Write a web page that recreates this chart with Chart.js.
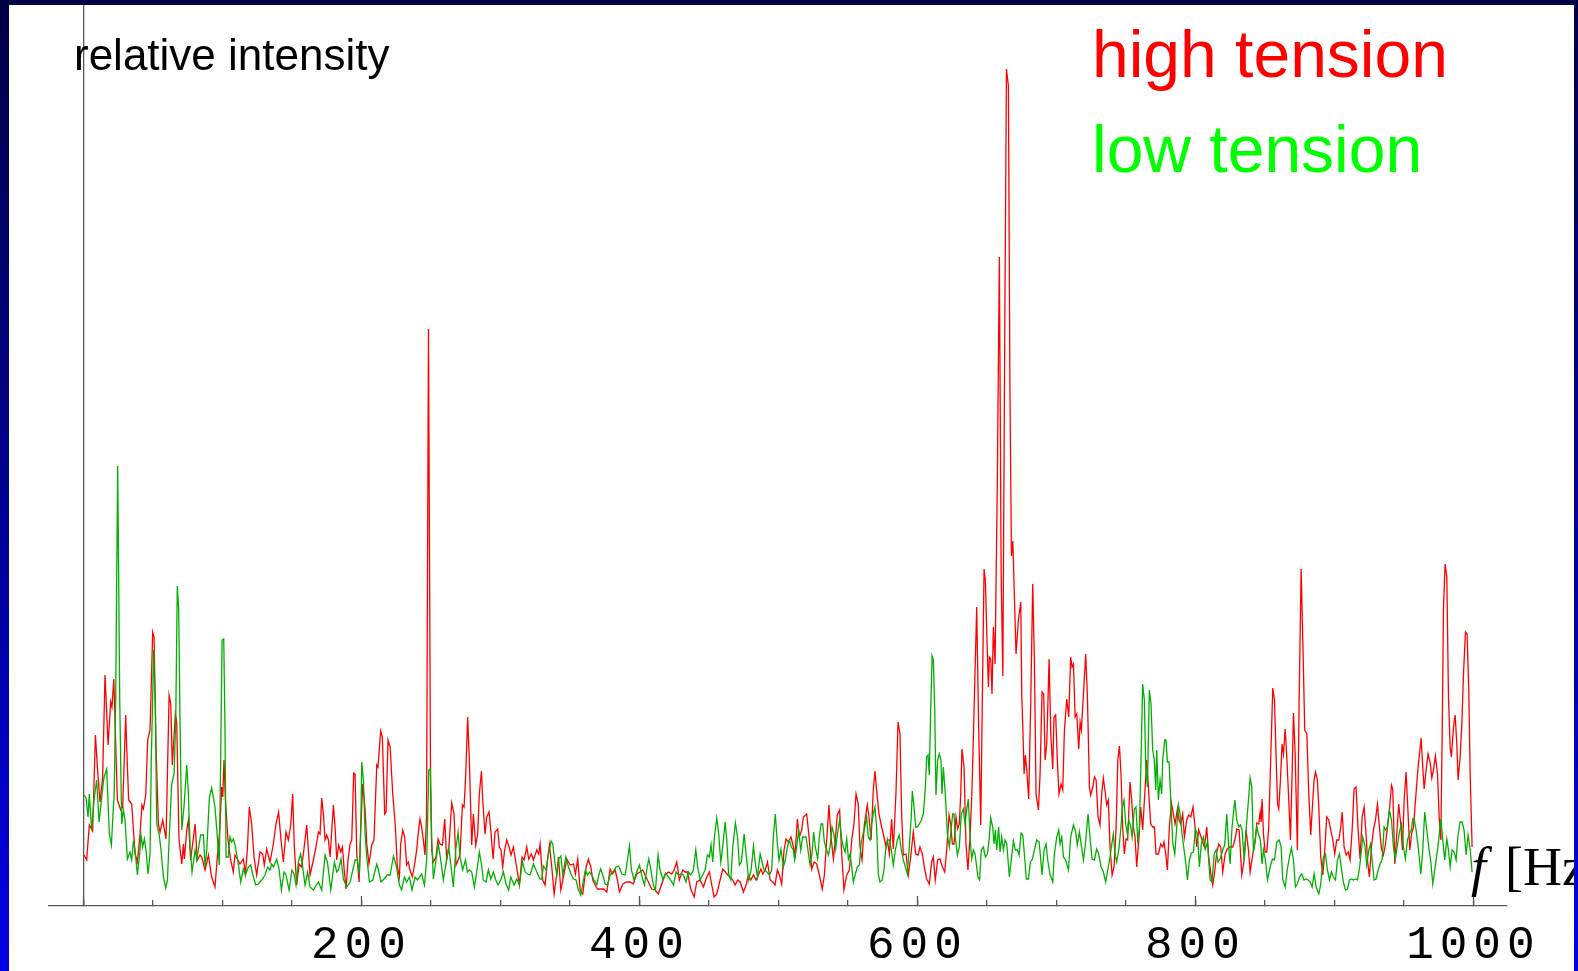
<!DOCTYPE html>
<html><head><meta charset="utf-8">
<script src="https://cdn.jsdelivr.net/npm/chart.js@4.4.1/dist/chart.umd.min.js"></script>
<style>
html,body{margin:0;padding:0;width:1578px;height:971px;overflow:hidden;}
body{background:linear-gradient(to bottom,#000046 0%,#000090 50%,#0000e6 100%);position:relative;}
#panel{position:absolute;left:9px;top:5px;width:1565px;height:966px;background:#fff;overflow:hidden;}
canvas{display:block;}
</style></head><body>
<div id="panel"><canvas id="c" width="1565" height="966"></canvas></div>
<script>
// high tension (red): frequency [Hz] and relative intensity
const hiFreq = [
0.5,2.4,4.3,6.7,8.7,10.1,12.0,13.9,15.6,17.8,19.7,20.6,21.9,24.5,26.9,28.3,30.5,31.2,32.6,34.8,37.2,38.9,40.8,42.2,43.2,44.9,46.3,48.0,49.9,50.9,52.3,54.0,55.2,57.1,59.5,61.7,62.9,64.0,66.2,67.2,68.8,70.8,72.0,72.7,74.4,75.6,77.2,80.4,82.0,84.0,85.2,87.6,90.0,92.3,94.7,96.4,98.3,99.5,100.3,101.2,102.2,104.1,106.0,107.9,109.1,110.8,112.7,115.1,116.6,118.0,119.4,121.1,122.8,124.7,127.1,129.0,130.2,131.9,134.3,136.7,138.6,140.5,142.2,143.9,145.8,147.5,149.2,150.6,151.8,153.5,155.2,156.9,158.3,160.7,163.1,
165.5,167.4,169.1,170.3,171.5,172.7,173.9,175.1,176.3,177.5,179.9,181.1,182.3,183.7,185.2,186.4,187.8,189.0,190.4,191.9,193.1,194.5,195.5,196.7,198.4,199.6,201.0,202.7,203.9,205.5,207.5,209.1,211.1,212.0,213.9,215.1,216.8,217.8,219.2,220.7,222.6,224.5,225.9,227.4,228.3,229.8,231.2,232.6,233.8,235.0,236.7,238.6,239.8,241.0,242.2,243.4,244.6,245.8,246.9,248.3,249.8,250.6,251.8,253.7,255.2,256.6,258.3,260.0,261.4,263.1,265.0,266.7,268.1,269.6,271.0,272.7,273.9,275.1,276.5,277.7,279.4,280.6,282.3,283.7,284.9,286.4,287.3,289.0,290.2,291.9,293.1,294.8,296.2,298.1,299.3,300.5,301.7,303.1,304.6,306.3,307.7,309.4,311.1,312.3,313.7,315.6,317.1,319.0,320.4,322.3,323.8,326.2,327.6,328.6,
330.5,332.2,333.9,335.3,337.0,338.7,340.6,341.8,343.5,345.4,347.8,350.2,352.6,354.0,355.7,357.4,359.3,361.7,363.4,365.1,366.5,368.2,369.8,371.8,374.2,376.6,379.0,380.6,382.6,384.2,385.7,388.1,390.9,393.3,395.7,398.1,400.5,402.5,404.1,406.5,408.9,411.3,413.7,416.1,418.5,420.9,423.3,425.0,426.9,428.8,431.2,432.9,434.6,437.0,439.4,441.3,443.7,446.1,448.5,450.4,452.1,453.8,455.7,458.1,460.0,461.9,463.6,465.3,467.2,468.9,470.8,472.5,474.9,476.8,478.5,480.2,482.1,484.0,485.7,487.4,488.8,490.5,492.2,494.1,
495.9,497.6,499.3,500.7,502.4,504.1,505.5,507.2,509.1,510.8,512.0,513.7,515.1,516.8,518.0,520.4,522.1,524.0,525.7,527.6,529.5,531.6,533.1,534.8,536.4,537.9,539.6,541.0,542.4,544.1,545.6,547.2,549.2,551.1,552.8,554.4,555.9,557.5,558.7,560.2,561.9,564.0,565.2,566.7,568.3,569.5,570.7,572.4,574.3,576.0,577.5,578.4,579.9,581.5,582.7,584.6,586.1,587.5,588.7,589.9,591.8,593.5,595.2,597.1,598.8,600.5,601.9,603.6,605.0,606.7,608.6,610.3,611.5,612.9,614.6,616.3,618.0,619.7,621.1,622.8,624.0,625.2,626.4,627.8,629.0,630.2,631.2,632.1,633.6,635.0,636.4,637.9,639.3,640.8,642.7,644.1,645.6,646.8,648.0,648.9,650.4,651.1,651.8,652.8,653.7,654.7,655.9,657.5,659.0,660.3,661.5,663.0,664.1,665.5,666.6,667.7,668.7,669.6,
671.0,672.7,674.4,675.1,675.8,676.8,677.7,678.7,680.1,681.6,683.0,684.2,685.4,687.1,688.3,689.7,690.9,691.9,693.1,694.8,696.0,697.4,698.3,699.5,700.7,701.9,703.4,704.6,705.8,707.5,708.9,710.3,711.3,712.3,713.5,714.7,716.1,717.1,718.0,719.5,721.1,722.3,723.8,724.7,726.2,727.4,728.6,730.0,731.4,732.6,733.8,735.3,736.2,737.4,738.6,740.1,741.5,743.0,744.2,745.4,746.6,747.7,748.9,750.1,751.3,753.0,754.2,755.4,756.6,757.8,759.3,760.7,762.1,763.6,765.0,766.2,767.9,769.3,770.5,771.7,773.4,775.1,776.5,777.5,778.7,779.9,781.3,782.8,784.2,785.4,787.1,788.3,789.5,790.9,792.1,793.8,795.2,796.7,798.3,799.8,801.0,802.4,803.4,804.8,806.5,808.2,809.6,811.3,812.5,813.7,815.4,816.8,818.3,819.7,821.4,823.0,824.5,
826.9,828.4,829.8,831.5,833.4,835.1,836.5,838.2,839.4,841.3,843.0,844.2,845.6,846.6,847.3,848.0,849.0,850.2,851.4,852.8,854.3,855.7,856.9,858.1,859.1,860.0,861.2,862.4,863.4,864.6,865.8,867.2,868.4,869.6,870.6,871.8,873.4,874.6,876.1,877.3,878.7,880.2,881.6,883.0,884.2,885.4,886.4,887.8,888.8,890.2,891.7,893.1,894.5,896.0,897.4,898.9,900.3,901.7,903.2,904.6,905.6,907.0,908.5,910.1,911.3,912.8,914.2,915.6,917.1,918.5,920.0,921.4,922.8,923.8,925.2,926.7,928.1,929.6,931.0,932.4,933.9,935.3,936.8,938.2,939.6,941.1,942.0,943.5,944.9,946.3,947.8,949.0,950.2,951.6,952.8,954.3,955.5,956.9,958.3,959.8,961.0,962.4,963.6,964.6,966.0,967.4,968.9,970.1,971.3,972.7,974.2,975.4,976.6,977.8,978.5,979.7,980.9,982.1,983.3,984.2,985.7,986.9,988.1,989.0,990.5,991.7,992.9,994.3,995.5,996.7,997.7,999.1
];
const hiVal = [
51,46,81,75,171,139,104,129,231,161,204,199,227,106,96,99,191,159,106,102,52,44,72,101,97,111,166,176,274,269,159,82,74,86,67,211,202,141,192,184,67,42,62,47,76,86,46,82,46,51,49,36,51,29,19,49,79,119,109,146,106,66,46,34,51,47,42,47,32,56,99,82,49,31,54,52,41,57,44,62,82,94,66,44,74,66,81,112,59,21,42,39,52,81,31,
46,59,74,72,108,92,66,71,66,49,101,79,46,61,54,59,34,17,46,62,66,133,132,52,24,79,122,97,62,42,61,66,141,139,175,169,92,94,166,159,112,79,39,29,62,76,69,41,44,36,29,44,56,74,87,79,66,51,90,577,120,56,44,49,67,62,61,87,46,61,103,92,41,46,52,101,99,132,189,146,61,92,61,72,112,135,106,72,89,94,76,47,74,77,59,56,39,56,66,59,51,59,44,34,21,49,46,59,47,52,46,56,52,62,
26,21,46,61,39,12,32,49,16,29,47,41,42,32,47,16,12,39,47,39,26,21,17,17,17,14,37,32,36,26,14,22,24,24,22,32,34,36,31,24,17,16,12,22,31,34,32,36,44,26,36,34,34,17,9,24,26,19,29,34,21,9,12,26,37,34,31,29,26,21,26,24,14,21,31,26,31,26,31,37,32,36,44,26,
24,21,36,31,22,56,67,64,69,59,51,87,69,76,89,92,69,37,44,42,31,17,31,66,101,69,47,66,91,96,52,16,31,36,66,82,112,102,59,46,82,101,89,66,116,135,116,92,79,69,59,66,52,87,57,112,184,172,92,51,52,31,49,74,52,51,59,52,39,27,22,44,49,26,46,47,39,34,56,91,82,62,62,89,77,82,112,157,139,62,36,69,116,196,299,179,81,212,337,326,252,219,249,247,212,279,242,420,649,330,230,600,837,820,520,350,365,320,
252,286,304,212,182,132,151,136,107,206,322,246,112,96,132,214,212,146,162,247,172,137,189,191,146,112,122,116,176,207,189,249,239,242,189,192,157,184,176,212,252,212,119,111,119,129,126,89,81,112,128,112,101,106,59,31,39,79,146,160,129,79,52,67,66,124,106,79,69,39,66,99,76,112,146,119,82,79,79,52,52,62,59,64,52,36,79,103,92,82,97,86,82,92,69,86,91,89,99,79,59,76,72,66,59,79,49,31,21,32,54,62,59,34,52,57,59,
59,66,77,76,31,46,76,56,34,52,64,83,82,94,84,107,72,54,54,79,152,218,206,149,102,97,126,162,152,177,149,106,66,132,193,152,56,199,337,266,176,172,112,71,99,126,134,126,99,49,31,56,89,86,76,66,52,66,66,79,94,59,51,54,46,76,117,119,76,47,89,99,72,46,29,59,76,86,102,79,57,51,62,79,96,121,117,42,72,102,81,56,106,134,99,56,72,79,104,132,149,168,139,117,136,152,144,128,136,150,132,89,66,199,299,342,329,209,159,149,179,191,162,126,149,182,232,274,272,216,132,59
];
// low tension (green)
const loFreq = [
0.5,2.0,3.4,4.3,6.0,7.7,9.6,11.3,12.7,14.9,16.8,18.7,20.2,21.6,22.2,23.3,24.7,26.2,27.6,28.8,30.0,31.7,33.6,34.8,36.0,37.2,38.9,40.8,41.5,42.7,43.9,45.1,46.5,48.0,48.9,50.6,51.8,52.8,54.5,55.9,57.6,59.3,60.5,61.9,63.6,65.3,66.5,67.6,68.6,69.6,70.8,72.4,74.4,75.6,76.8,78.2,80.4,81.6,82.7,84.4,86.4,87.6,88.8,90.7,92.3,94.7,96.4,97.8,98.8,99.8,101.0,101.9,102.7,104.3,105.5,106.7,107.9,109.1,110.3,111.8,113.2,115.1,116.6,118.7,120.4,122.3,124.0,125.9,128.3,130.7,132.6,134.3,135.5,136.7,139.1,140.8,142.5,144.4,145.8,148.0,150.1,151.6,153.0,154.7,156.4,157.8,159.5,161.4,163.1,
165.5,169.1,171.5,173.9,175.6,178.0,180.6,182.3,183.5,185.4,187.1,189.5,191.9,195.5,197.2,198.6,199.6,200.3,201.5,202.7,203.9,205.8,208.2,211.1,212.3,214.2,216.3,218.7,220.7,223.1,225.0,227.4,229.0,231.0,232.6,234.6,236.5,238.6,240.3,243.4,245.4,247.0,248.5,249.7,250.6,251.8,253.7,255.4,257.1,259.0,261.4,262.9,264.3,266.2,267.9,269.6,271.0,272.9,274.9,276.3,277.7,279.4,281.3,283.0,284.9,286.4,287.8,289.7,291.4,293.1,295.0,296.7,298.4,300.3,302.2,304.1,306.0,307.5,309.9,311.8,313.7,315.9,317.8,319.5,321.4,323.8,326.2,328.6,
329.8,331.0,332.9,334.6,336.5,337.7,339.4,340.6,342.0,343.5,344.9,347.1,349.0,350.9,352.6,354.5,356.2,357.9,359.8,361.2,362.7,364.1,365.8,367.4,369.4,370.8,372.2,373.7,375.4,377.0,379.0,380.9,383.3,385.2,387.4,389.8,391.4,392.9,394.3,396.2,398.1,400.1,402.0,403.7,405.3,406.8,408.2,410.1,411.6,413.5,414.9,416.9,418.8,420.9,422.6,424.5,426.4,428.1,429.8,431.7,433.6,435.3,437.0,438.9,440.6,442.0,443.7,445.6,447.3,449.0,450.4,451.6,452.8,454.0,455.7,457.1,458.6,460.0,461.7,462.9,464.3,465.8,467.2,469.1,470.6,472.0,473.4,475.4,476.8,478.7,480.4,482.1,483.5,485.0,486.9,488.3,489.7,491.7,493.6,
495.2,496.4,497.8,499.3,500.5,501.9,503.6,505.0,506.5,507.9,509.3,510.8,511.7,513.2,514.6,516.1,517.5,518.9,519.9,521.3,522.8,524.2,525.4,526.6,528.3,529.5,530.7,531.9,533.1,534.8,536.0,537.2,538.6,540.0,541.2,542.7,544.1,545.6,546.8,548.0,549.2,550.4,551.6,552.8,554.0,555.4,556.8,558.3,559.5,560.9,562.3,563.5,564.7,565.9,567.1,568.3,569.5,570.7,571.9,573.1,574.6,576.0,577.2,578.7,579.9,581.3,582.7,584.2,585.6,587.0,588.5,589.9,591.4,592.8,594.2,595.7,596.4,597.6,598.8,600.0,601.4,602.9,604.3,605.8,606.7,607.7,608.6,609.6,610.6,611.5,612.5,613.4,614.6,615.8,617.0,617.7,618.7,620.1,621.6,623.0,624.0,625.4,626.4,627.3,628.8,630.2,631.6,633.1,634.3,635.5,636.7,637.9,639.1,640.3,641.5,642.7,643.6,644.8,646.0,647.5,648.9,650.4,651.6,652.8,654.2,655.2,656.1,657.1,658.5,659.5,
660.7,661.9,663.1,664.3,666.2,667.4,669.1,670.5,672.0,673.2,674.6,675.8,677.0,678.4,679.9,681.3,682.8,684.2,685.9,687.6,688.8,689.7,691.2,692.6,693.8,695.5,697.4,698.6,700.3,701.7,702.7,703.9,705.1,706.7,708.7,710.3,712.3,713.9,715.1,716.6,717.8,719.5,720.9,722.8,724.2,725.7,727.4,729.0,730.5,732.2,733.8,735.5,737.0,738.6,740.1,741.0,742.2,743.4,744.9,746.3,747.5,748.7,749.9,751.1,752.1,753.5,754.5,756.1,757.3,758.5,759.7,760.9,762.1,763.3,764.3,765.5,766.9,768.1,769.3,770.5,771.5,772.2,773.4,774.6,775.8,776.5,778.0,778.9,779.9,781.1,782.3,783.7,785.2,786.6,787.8,789.0,790.4,791.9,793.3,794.3,795.7,797.1,798.6,800.0,801.5,802.9,804.3,805.8,807.2,808.7,810.6,812.0,813.5,814.9,816.3,817.8,819.7,821.1,822.6,824.0,
825.0,826.4,828.4,829.8,831.2,832.4,833.6,835.1,836.5,838.2,839.4,840.6,841.8,843.0,844.2,845.6,846.8,848.0,849.0,850.4,851.9,853.8,855.5,856.9,858.6,860.3,861.7,862.9,864.6,866.2,867.7,869.1,870.6,872.0,873.4,874.9,876.6,878.2,879.7,881.1,882.6,884.0,885.4,886.9,888.8,890.2,892.1,893.6,895.0,896.5,897.9,899.3,900.8,902.2,903.7,905.1,906.5,908.0,909.4,910.9,912.3,913.7,915.2,916.6,918.0,919.5,920.4,921.9,923.3,924.8,926.0,927.2,928.6,930.0,931.5,932.9,934.4,935.8,936.8,938.2,939.6,941.1,942.5,943.9,945.4,946.8,948.3,949.7,951.1,952.6,954.0,955.5,956.4,957.4,958.8,960.3,962.2,963.6,965.0,966.5,967.9,969.4,970.8,972.2,973.7,975.1,976.6,978.0,979.4,980.9,982.1,983.3,984.7,986.1,987.6,988.8,990.5,991.9,993.3,994.8,996.2,997.7,999.1
];
const loVal = [
111,108,89,112,76,106,126,84,102,129,137,72,61,99,110,210,440,205,82,96,86,47,54,46,64,56,31,56,71,59,67,56,32,52,146,256,199,82,72,56,29,18,26,72,122,132,189,320,296,179,76,99,141,112,59,34,56,46,56,71,71,39,56,109,118,99,69,41,146,266,267,179,49,49,69,64,67,61,52,39,24,37,31,39,41,29,21,22,26,31,39,36,42,39,47,37,16,34,31,16,36,32,21,44,52,39,21,34,19,
16,24,16,51,44,16,44,34,36,47,27,19,24,46,46,32,79,144,126,72,49,24,26,42,36,24,27,31,31,50,41,21,16,29,24,29,16,29,26,32,21,46,136,137,69,27,46,62,46,26,47,59,42,19,56,74,49,36,46,34,36,34,19,34,54,42,26,24,36,27,34,26,21,26,34,22,16,29,21,27,21,44,34,32,31,42,34,27,
27,40,36,52,65,62,42,31,47,50,31,49,39,32,27,26,16,11,26,36,31,34,31,26,21,31,37,31,22,21,31,34,39,40,32,31,46,60,36,26,34,41,29,21,36,47,37,21,16,51,36,26,33,29,26,21,34,31,32,31,24,34,31,36,56,39,26,31,36,51,49,61,44,69,88,72,44,59,84,66,31,26,59,83,69,41,44,72,52,26,36,60,42,29,52,44,36,34,31,
36,69,92,62,46,57,39,46,59,66,59,56,46,59,76,56,69,69,69,56,41,52,74,59,47,69,82,82,64,56,51,59,79,72,57,74,86,66,59,54,67,47,52,39,24,32,39,41,62,72,79,89,69,66,82,92,99,79,32,24,26,36,56,66,66,56,41,56,66,71,56,46,39,32,59,92,115,99,79,79,82,86,92,119,149,151,131,196,250,246,196,111,146,152,146,112,139,112,72,59,72,92,92,69,51,59,92,97,82,96,107,69,47,56,52,39,29,26,56,59,49,52,66,88,79,62,76,56,79,54,
69,56,66,62,29,44,65,56,56,51,73,71,52,27,27,44,47,56,66,64,46,31,56,62,46,31,24,52,69,76,62,69,49,46,36,69,81,74,61,74,62,46,62,92,69,47,46,57,52,39,34,24,36,49,64,72,52,44,56,76,99,106,82,72,86,79,69,97,99,66,76,146,222,206,139,119,216,202,156,146,116,156,106,126,112,146,166,166,144,144,106,64,52,79,101,92,72,56,41,26,46,53,54,77,72,39,62,69,57,64,26,24,52,56,44,47,56,61,92,59,
42,79,106,86,79,81,76,46,76,106,128,119,54,66,79,71,66,42,56,46,26,39,47,46,64,66,59,26,19,37,49,58,46,19,22,29,32,26,27,26,24,19,32,19,12,22,49,52,36,26,34,29,26,46,52,37,24,16,17,26,27,26,27,26,37,56,69,61,41,56,62,46,26,27,36,42,47,79,76,79,96,86,59,47,61,74,82,59,47,66,72,77,87,87,76,59,32,56,94,76,59,44,22,36,51,66,87,66,46,67,56,39,56,54,46,69,84,84,76,51,71,57,34
];
// axis ticks
const minorTickValues = [0,50,100,150,200,250,300,350,400,450,500,550,600,650,700,750,800,850,900,950,1000];
const majorTickValues = [0,200,400,600,800,1000];
const tickLabels = [200,400,600,800,1000];
const seriesNames = ['high tension', 'low tension'];
const seriesColors = ['#ff0000', '#00b000'];
const legendColors = ['#ff0000', '#00ff00'];

const toPts = (fs, vs) => fs.map((f, i) => ({x: f, y: vs[i]}));
const axisGray = '#585858';

const textPlugin = {
  id: 'textPlugin',
  beforeDraw(chart) { chart.ctx.letterSpacing = '6px'; },
  beforeDatasetsDraw(chart) { chart.ctx.letterSpacing = '0px'; },
  afterDraw(chart) {
    const ctx = chart.ctx;
    ctx.save();
    ctx.letterSpacing = '0px';
    ctx.textBaseline = 'alphabetic';
    ctx.textAlign = 'left';
    ctx.fillStyle = '#000';
    ctx.font = '44px "Liberation Sans", Arial, sans-serif';
    ctx.fillText('relative intensity', 65, 65);
    ctx.font = '66px "Liberation Sans", Arial, sans-serif';
    ctx.fillStyle = legendColors[0];
    ctx.fillText(seriesNames[0], 1083, 72);
    ctx.fillStyle = legendColors[1];
    ctx.fillText(seriesNames[1], 1083, 167);
    ctx.fillStyle = '#000';
    ctx.font = 'italic 54px "Liberation Serif", serif';
    ctx.fillText('f', 1462, 880);
    ctx.font = '54px "Liberation Serif", serif';
    ctx.fillText('[Hz]', 1496, 880);
    ctx.restore();
  }
};

new Chart(document.getElementById('c'), {
  type: 'line',
  data: {
    datasets: [
      {label: seriesNames[1], data: toPts(loFreq, loVal), borderColor: seriesColors[1], borderWidth: 1.3, pointRadius: 0, tension: 0, fill: false, order: 0},
      {label: seriesNames[0], data: toPts(hiFreq, hiVal), borderColor: seriesColors[0], borderWidth: 1.3, pointRadius: 0, tension: 0, fill: false, order: 1}
    ]
  },
  options: {
    responsive: false,
    animation: false,
    devicePixelRatio: 1,
    events: [],
    layout: {padding: {left: 40, right: 67, top: 0, bottom: 0}},
    plugins: {legend: {display: false}, tooltip: {enabled: false}, title: {display: false}},
    scales: {
      x: {
        type: 'linear', position: 'bottom', min: -24.7, max: 1024.2, weight: 1,
        afterBuildTicks(s) { s.ticks = minorTickValues.map(v => ({value: v})); },
        afterFit(s) { s.height = 65; },
        border: {display: true, color: axisGray, width: 1.3},
        grid: {
          display: true, drawOnChartArea: true, drawTicks: true,
          tickLength: -6, tickWidth: 1.3, tickColor: axisGray, lineWidth: 1.3,
          color: (c) => (c.tick && c.tick.value === 0) ? axisGray : 'rgba(0,0,0,0)'
        },
        ticks: {
          autoSkip: false, maxRotation: 0, minRotation: 0,
          padding: 18, color: '#000',
          font: {family: '"Liberation Mono", "DejaVu Sans Mono", monospace', size: 46},
          callback: (v) => tickLabels.includes(v) ? String(v) : ''
        }
      },
      x2: {
        type: 'linear', position: 'bottom', min: -24.7, max: 1024.2, weight: 0,
        afterBuildTicks(s) { s.ticks = majorTickValues.map(v => ({value: v})); },
        afterFit(s) { s.height = 0; },
        border: {display: false},
        grid: {drawOnChartArea: false, drawTicks: true, tickLength: -10, tickWidth: 1.3, tickColor: axisGray, color: 'rgba(0,0,0,0)'},
        ticks: {display: false, autoSkip: false}
      },
      y: {type: 'linear', min: 0, max: 901, display: false}
    }
  },
  plugins: [textPlugin]
});
</script>
</body></html>
